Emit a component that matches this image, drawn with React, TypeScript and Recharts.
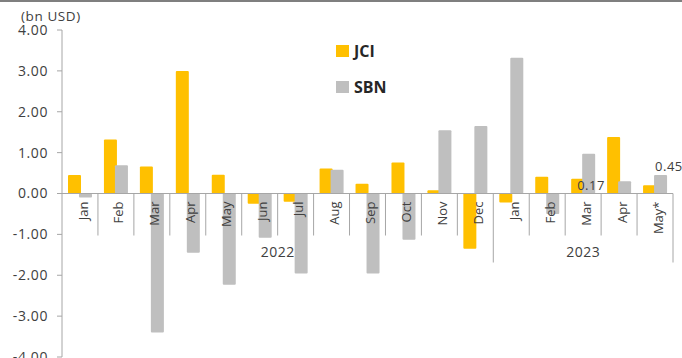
import { BarChart, Bar, XAxis, YAxis, ReferenceLine, LabelList } from 'recharts'

const months = ['Jan', 'Feb', 'Mar', 'Apr', 'May', 'Jun', 'Jul', 'Aug', 'Sep', 'Oct', 'Nov', 'Dec', 'Jan', 'Feb', 'Mar', 'Apr', 'May*']
const years = ['2022', '2023']
const yearOfMonth = [0, 0, 0, 0, 0, 0, 0, 0, 0, 0, 0, 0, 1, 1, 1, 1, 1]
const jciValues = [0.45, 1.32, 0.66, 3.0, 0.46, -0.25, -0.2, 0.61, 0.24, 0.76, 0.08, -1.35, -0.22, 0.41, 0.36, 1.38, 0.2]
const sbnValues = [-0.1, 0.69, -3.4, -1.45, -2.23, -1.08, -1.96, 0.58, -1.96, -1.13, 1.55, 1.65, 3.32, -0.5, 0.97, 0.3, 0.45]
const jciNotes = ['', '', '', '', '', '', '', '', '', '', '', '', '', '', '0.17', '', '']
const sbnNotes = ['', '', '', '', '', '', '', '', '', '', '', '', '', '', '', '', '0.45']
const yTicks = [-4, -3, -2, -1, 0, 1, 2, 3, 4]
const seriesNames = ['JCI', 'SBN']

const data = months.map((m, i) => ({
  month: m,
  year: years[yearOfMonth[i]],
  jci: jciValues[i],
  sbn: sbnValues[i],
  jciNote: jciNotes[i],
  sbnNote: sbnNotes[i],
}))

const W = 682
const H = 400
const LEFT = 62
const RIGHT = 673
const TOP = 30
const BOTTOM = 357
const BAND = (RIGHT - LEFT) / months.length
const ZERO_Y = (TOP + BOTTOM) / 2
const BAR = 13
const GAP = -2
const FONT = '"Open Sans", sans-serif'
const TEXT = '#404040'
const AXIS = '#a6a6a6'
const GOLD = '#ffc000'
const GREY = '#bfbfbf'

// separators + year labels (month names are drawn above the bars, see MonthLabel)
function YearTick(props: any) {
  const { x, payload } = props
  const i = payload.index
  const left = x - BAND / 2
  const right = x + BAND / 2
  const isYearStart = i > 0 && yearOfMonth[i] !== yearOfMonth[i - 1]
  const isLast = i === months.length - 1
  const idx = yearOfMonth.map((y, k) => (y === yearOfMonth[i] ? k : -1)).filter((k) => k >= 0)
  const mid = idx[Math.floor((idx.length - 1) / 2)]
  const showYear = i === mid
  const yearX = idx.length % 2 === 0 ? right : x
  return (
    <g>
      {i > 0 && (
        <line x1={left} x2={left} y1={ZERO_Y} y2={ZERO_Y + (isYearStart ? 69 : 42)} stroke={AXIS} />
      )}
      {isLast && <line x1={right} x2={right} y1={ZERO_Y} y2={ZERO_Y + 69} stroke={AXIS} />}
      {showYear && (
        <text x={yearX} y={ZERO_Y + 59} dy="0.35em" textAnchor="middle" fontSize={14} fontFamily={FONT} fill={TEXT} letterSpacing={0.5}>
          {years[yearOfMonth[i]]}
        </text>
      )}
    </g>
  )
}

function MonthLabel(props: any) {
  const { x, value } = props
  // x is the SBN bar's left edge; the pair of bars is centred in the band
  const cx = x - (BAR + GAP) + (2 * BAR + GAP) / 2 + 3
  const cy = ZERO_Y + 8
  return (
    <text
      x={cx}
      y={cy}
      dy="0.35em"
      transform={`rotate(-90, ${cx}, ${cy})`}
      textAnchor="end"
      fontSize={13}
      fontFamily={FONT}
      fill={TEXT}
    >
      {value}
    </text>
  )
}

function NoteLabel(props: any) {
  const { x, y, value, side } = props
  if (!value) return null
  const tx = side === 'in' ? x + 6 : x + 1
  const ty = side === 'in' ? y + 11 : y - 4
  return (
    <text x={tx} y={ty} fontSize={13} fontFamily={FONT} fill={TEXT} letterSpacing={0.5}>
      {value}
    </text>
  )
}

export default function App() {
  const colors = [GOLD, GREY]
  return (
    <div style={{ position: 'relative', width: W, height: 358, overflow: 'hidden', background: '#fff' }}>
      <style>{'body{margin:0}'}</style>
      <div style={{ position: 'absolute', left: 0, top: 0, width: W, height: 2, background: '#7f7f7f' }} />
      <div
        style={{
          position: 'absolute',
          left: 21,
          top: 7,
          fontFamily: FONT,
          fontSize: 13.5,
          color: TEXT,
          letterSpacing: 0.6,
        }}
      >
        (bn USD)
      </div>
      <div style={{ position: 'absolute', left: 336, top: 33, fontFamily: FONT, zIndex: 2 }}>
        {seriesNames.map((name, k) => (
          <div key={name} style={{ display: 'flex', alignItems: 'center', height: 36 }}>
            <span style={{ width: 13, height: 12, background: colors[k], display: 'inline-block', marginRight: 5 }} />
            <span style={{ fontWeight: 700, fontSize: 16, color: '#262626' }}>{name}</span>
          </div>
        ))}
      </div>
      <BarChart
        width={W}
        height={H}
        data={data}
        margin={{ top: TOP, right: W - RIGHT, left: 0, bottom: H - BOTTOM - 1 }}
        barSize={BAR}
        barGap={GAP}
      >
        <XAxis
          dataKey="month"
          height={1}
          interval={0}
          axisLine={false}
          tickLine={false}
          tick={<YearTick />}
        />
        <YAxis
          width={LEFT}
          domain={[-4, 4]}
          ticks={yTicks}
          allowDataOverflow
          tickFormatter={(v: number) => v.toFixed(2)}
          tickSize={5}
          tickMargin={9}
          axisLine={{ stroke: AXIS }}
          tickLine={{ stroke: AXIS }}
          tick={{ fontSize: 14, fill: TEXT, fontFamily: FONT, letterSpacing: 0.6 }}
        />
        <Bar dataKey="jci" name="JCI" fill={GOLD} radius={1} isAnimationActive={false}>
          <LabelList dataKey="jciNote" content={(p: any) => <NoteLabel {...p} side="in" />} />
        </Bar>
        <Bar dataKey="sbn" name="SBN" fill={GREY} radius={1} isAnimationActive={false}>
          <LabelList dataKey="month" content={(p: any) => <MonthLabel {...p} />} />
          <LabelList dataKey="sbnNote" content={(p: any) => <NoteLabel {...p} side="top" />} />
        </Bar>
        <ReferenceLine y={0} stroke={AXIS} />
      </BarChart>
    </div>
  )
}
